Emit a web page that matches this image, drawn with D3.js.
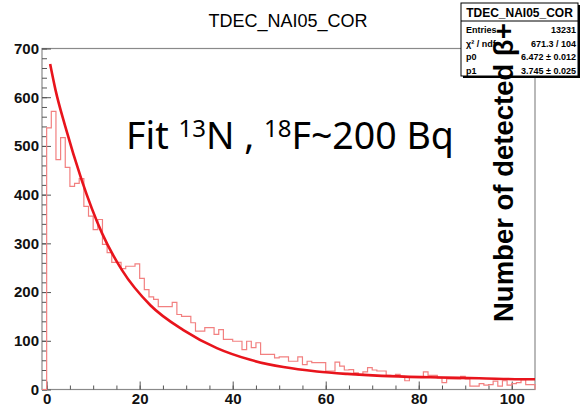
<!DOCTYPE html>
<html>
<head>
<meta charset="utf-8">
<script src="https://cdn.jsdelivr.net/npm/d3@7"></script>
<style>
	body { margin: 0; background: #fff; }
	svg { display: block; }
</style>
</head>
<body>
<div id="chart"></div>
<script>
// histogram: first bin starts at binStart, each bin is binWidth wide
var binStart = -1;
var binWidth = 1;
var counts = [0,
	537, 571, 472, 517, 456, 417, 423, 433, 376, 356,
	328, 349, 298, 281, 261, 261, 248, 253, 253, 258,
	228, 205, 190, 185, 170, 170, 170, 179, 154, 150,
	150, 137, 120, 120, 127, 127, 113, 123, 103, 103,
	99, 99, 82, 99, 86, 96, 72, 72, 72, 65,
	67, 67, 58, 58, 67, 51, 58, 55, 55, 55,
	38, 38, 56, 48, 40, 41, 34, 29, 36, 45,
	40, 38, 38, 29, 27, 31, 27, 18, 25, 25,
	26, 36, 29, 29, 24, 14, 22, 22, 22, 27,
	22, 7, 7, 12, 9, 10, 17, 7, 18, 9,
	12, 14, 20, 10, 10];

// fit curve
var fitX = [0.75, 1.9, 4, 7.5, 11.9, 16.2, 22.3, 29.4, 36.6, 43.8, 50.9, 58.1, 64.6, 72, 82.5, 93, 104.3, 105];
var fitY = [668, 615, 540, 431, 321, 245, 173, 122, 85, 61, 46, 37, 32, 28, 25, 23, 21, 21];

var xTicks = [0, 20, 40, 60, 80, 100];
var yTicks = [0, 100, 200, 300, 400, 500, 600, 700];
var xMinorTicks = d3.range(0, 105, 5);
var yMinorTicks = d3.range(0, 701, 20);

var title = 'TDEC_NAI05_COR';
var statLabels = ['Entries', 'χ² / ndf', 'p0', 'p1'];
var statValues = ['13231', '671.3 / 104', '6.472 ± 0.012', '3.745 ± 0.025'];

var W = 581, H = 410;
var frame = { L: 42, R: 535, T: 48.5, B: 389.5 };

var svg = d3.select('#chart').append('svg')
	.attr('width', W)
	.attr('height', H);

var xScale = d3.scaleLinear().domain([-1, 105]).range([frame.L, frame.R]);
var yScale = d3.scaleLinear().domain([0, 700]).range([frame.B, frame.T]);

// title
svg.append('text')
	.attr('x', 288).attr('y', 27)
	.attr('text-anchor', 'middle')
	.style('font-family', 'Liberation Sans, Arial, sans-serif')
	.style('font-size', '18px')
	.text(title);

// frame
svg.append('rect')
	.attr('x', frame.L).attr('y', frame.T)
	.attr('width', frame.R - frame.L).attr('height', frame.B - frame.T)
	.attr('fill', 'none')
	.attr('stroke', '#8a8a8a')
	.attr('stroke-width', 1.2);

var labelFont = function(sel) {
	sel.selectAll('text')
		.style('font-family', 'Liberation Sans, Arial, sans-serif')
		.style('font-weight', 'bold')
		.style('font-size', '15px')
		.attr('fill', '#111');
};

//minor ticks first, then major ones with labels
svg.append('g')
	.attr('transform', 'translate(' + frame.L + ',0)')
	.call(d3.axisLeft(yScale).tickValues(yMinorTicks).tickSize(-5).tickFormat(''))
	.call(g => g.select('.domain').remove())
	.call(g => g.selectAll('line').attr('stroke', '#555'));

svg.append('g')
	.attr('transform', 'translate(' + frame.L + ',0)')
	.call(d3.axisLeft(yScale).tickValues(yTicks).tickSize(-9).tickPadding(3))
	.call(g => g.select('.domain').remove())
	.call(g => g.selectAll('line').attr('stroke', '#555'))
	.call(labelFont);

svg.append('g')
	.attr('transform', 'translate(0,' + frame.B + ')')
	.call(d3.axisBottom(xScale).tickValues(xMinorTicks).tickSize(-4).tickFormat(''))
	.call(g => g.select('.domain').remove())
	.call(g => g.selectAll('line').attr('stroke', '#555'));

svg.append('g')
	.attr('transform', 'translate(0,' + frame.B + ')')
	.call(d3.axisBottom(xScale).tickValues(xTicks).tickSize(-8).tickPadding(4))
	.call(g => g.select('.domain').remove())
	.call(g => g.selectAll('line').attr('stroke', '#555'))
	.call(labelFont);

// histogram outline as steps
var steps = [[binStart, 0]];
counts.forEach(function(c, i) {
	var lo = binStart + i * binWidth;
	steps.push([lo, c], [lo + binWidth, c]);
});
steps.push([binStart + counts.length * binWidth, 0]);

var plot = svg.append('g');

plot.append('path')
	.datum(steps)
	.attr('fill', 'none')
	.attr('stroke', '#f28080')
	.attr('stroke-width', 1.2)
	.attr('d', d3.line().x(d => xScale(d[0])).y(d => yScale(d[1])));

var fitPts = fitX.map((x, i) => [x, fitY[i]]);
plot.append('path')
	.datum(fitPts)
	.attr('fill', 'none')
	.attr('stroke', '#e8141c')
	.attr('stroke-width', 2.6)
	.attr('d', d3.line().curve(d3.curveMonotoneX).x(d => xScale(d[0])).y(d => yScale(d[1])));

// stats box
var box = { x: 461, y: 3, w: 117, h: 73, head: 18 };
var stats = svg.append('g');
stats.append('rect')
	.attr('x', box.x + 2).attr('y', box.y + 2)
	.attr('width', box.w).attr('height', box.h)
	.attr('fill', '#000');
stats.append('rect')
	.attr('x', box.x).attr('y', box.y)
	.attr('width', box.w).attr('height', box.h)
	.attr('fill', '#fff')
	.attr('stroke', '#000')
	.attr('stroke-width', 1);
stats.append('line')
	.attr('x1', box.x).attr('x2', box.x + box.w)
	.attr('y1', box.y + box.head).attr('y2', box.y + box.head)
	.attr('stroke', '#000');
stats.append('text')
	.attr('x', box.x + box.w / 2).attr('y', box.y + 14)
	.attr('text-anchor', 'middle')
	.style('font-family', 'Liberation Sans, Arial, sans-serif')
	.style('font-weight', 'bold')
	.style('font-size', '12px')
	.text(title);

statLabels.forEach(function(lab, i) {
	var yy = box.y + box.head + 12 + i * 13.5;
	stats.append('text')
		.attr('x', box.x + 5).attr('y', yy)
		.style('font-family', 'Liberation Sans, Arial, sans-serif')
		.style('font-weight', 'bold')
		.style('font-size', '9px')
		.text(lab);
	stats.append('text')
		.attr('x', box.x + box.w - 2).attr('y', yy)
		.attr('text-anchor', 'end')
		.style('font-family', 'Liberation Sans, Arial, sans-serif')
		.style('font-weight', 'bold')
		.style('font-size', '9px')
		.text(statValues[i]);
});

// annotation text pasted over the plot
var note = svg.append('text')
	.attr('x', 126).attr('y', 149)
	.style('font-family', 'Noto Sans, Open Sans, sans-serif')
	.style('font-size', '37.5px')
	.attr('fill', '#000');
note.append('tspan').text('Fit ');
note.append('tspan').attr('dy', -12).style('font-size', '24px').text('13');
note.append('tspan').attr('dy', 12).text('N , ');
note.append('tspan').attr('dy', -12).style('font-size', '24px').text('18');
note.append('tspan').attr('dy', 12).text('F~200 Bq');

svg.append('text')
	.attr('transform', 'translate(513,322) rotate(-90)')
	.style('font-family', 'Liberation Sans, Arial, sans-serif')
	.style('font-weight', 'bold')
	.style('font-size', '27.5px')
	.attr('fill', '#000')
	.text('Number of detected β+');
</script>
</body>
</html>
